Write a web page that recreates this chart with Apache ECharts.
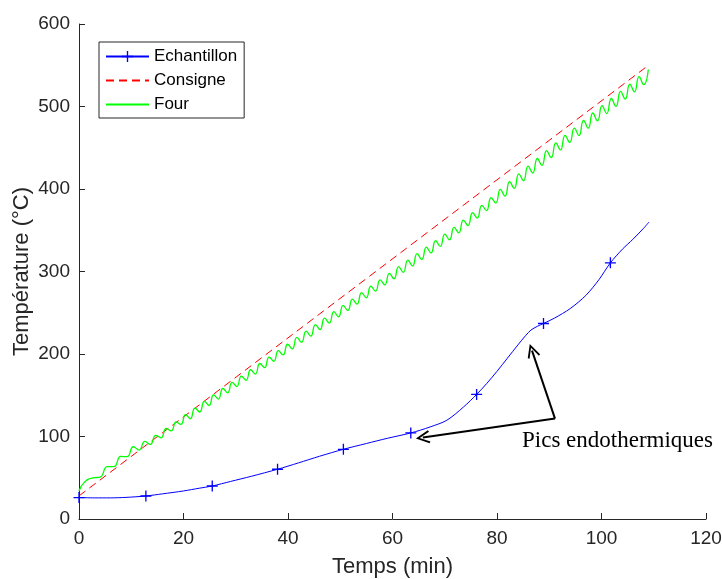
<!DOCTYPE html>
<html><head><meta charset="utf-8">
<script src="https://cdn.jsdelivr.net/npm/echarts@6/dist/echarts.min.js"></script>
<style>html,body{margin:0;padding:0;background:#fff}#c{width:722px;height:579px}</style>
</head><body><div id="c"></div>
<script>
// ---- data ----
const seriesNames = ['Echantillon', 'Consigne', 'Four'];
const xTitle = 'Temps (min)';
const yTitle = 'Température (°C)';
const annotText = 'Pics endothermiques';

const consigneT = [0, 109.1];
const consigneV = [28, 550.5];

const blueT = [0, 3, 6, 9, 12.8, 16, 20, 23, 25.5, 29, 33, 38.0, 42, 46, 50.6, 55, 59, 63.5, 67.2, 70.4, 73.6, 76.1, 78, 80, 82, 84, 85.5, 86.5, 87.7, 88.9, 91, 94, 97, 99.5, 101.7, 104, 106, 108, 109.1];
const blueV = [26, 25.6, 25.6, 26.2, 27.9, 30.5, 34, 37.3, 40, 45.5, 51.8, 60.3, 68, 76, 84.5, 91.5, 97.8, 104.3, 111.6, 119.7, 135.8, 151, 164, 179, 195, 211, 222.5, 229, 233.5, 237, 243.5, 255, 271, 290, 310.5, 327, 339, 352, 360];
const blueMarkerT = [0, 12.8, 25.5, 38.0, 50.6, 63.5, 76.1, 88.9, 101.7];

const greenT = [0, 1.1, 2.7, 4.05, 5.4, 6.7, 8.0, 9.2, 10.4, 11.5, 12.6, 13.65, 14.7, 15.7, 16.7, 17.65, 18.6, 19.5, 20.4, 21.3, 22.2, 23.1, 24.0, 24.89, 25.77, 26.66, 27.54, 28.43, 29.31, 30.20, 31.08, 31.97, 32.85, 33.74, 34.62, 35.51, 36.39, 37.28, 38.16, 39.05, 39.93, 40.82, 41.70, 42.59, 43.47, 44.36, 45.24, 46.13, 47.01, 47.90, 48.78, 49.67, 50.55, 51.44, 52.32, 53.21, 54.09, 54.98, 55.86, 56.75, 57.63, 58.52, 59.40, 60.29, 61.17, 62.06, 62.94, 63.83, 64.71, 65.60, 66.48, 67.37, 68.25, 69.14, 70.02, 70.91, 71.79, 72.68, 73.56, 74.45, 75.33, 76.22, 77.10, 77.99, 78.87, 79.76, 80.64, 81.53, 82.41, 83.30, 84.18, 85.07, 85.95, 86.84, 87.72, 88.61, 89.49, 90.38, 91.26, 92.15, 93.03, 93.92, 94.80, 95.69, 96.57, 97.46, 98.34, 99.23, 100.11, 101.00, 101.88, 102.77, 103.65, 104.54, 105.42, 106.31, 107.19, 108.08, 108.96];
const greenV = [34, 45, 49.9, 50.7, 63.4, 63.6, 75.8, 75.6, 87.6, 83.6, 94.1, 90.4, 101.4, 98.4, 109.7, 106.7, 117.8, 114.6, 126.6, 121.5, 134.5, 129.7, 142.6, 137.6, 150.5, 145.4, 158.2, 153.0, 165.7, 160.6, 173.3, 168.2, 180.9, 175.7, 188.5, 183.4, 196.3, 191.2, 204.0, 198.9, 211.8, 206.2, 220.1, 214.0, 227.8, 221.7, 235.6, 229.6, 243.5, 237.5, 251.3, 245.1, 258.9, 252.7, 266.5, 260.4, 274.3, 268.2, 282.1, 276.1, 289.9, 283.9, 297.8, 291.2, 306.0, 299.0, 313.8, 306.7, 321.6, 314.5, 329.5, 322.5, 337.4, 330.4, 345.4, 338.4, 353.4, 346.8, 362.2, 355.7, 371.2, 364.7, 380.2, 373.8, 389.4, 383.0, 399.6, 391.3, 408.9, 400.7, 418.3, 410.0, 427.7, 419.4, 437.0, 428.7, 446.4, 438.1, 455.8, 447.4, 464.9, 456.4, 473.8, 464.8, 483.2, 473.7, 492.1, 482.6, 501.0, 491.4, 509.7, 500.1, 518.4, 508.9, 527.2, 517.7, 536.1, 526.5, 544.9];

const arrowFrom = [91.1, 121.7];
const arrowTargets = [[65.8, 98.7], [86.7, 204.1]];

// ---- build ----
const zip = (a, b) => a.slice(0, Math.min(a.length, b.length)).map((v, i) => [v, b[i]]);
const PLUS = 'path://M0,4.4H10V5.6H0Z M4.4,0H5.6V10H4.4Z';
const CHEVRON = 'path://M5,0 L10,8.6 L8.8,9.3 L5,2.6 L1.2,9.3 L0,8.6 Z';
const blueData = zip(blueT, blueV).map(p => ({
  value: p,
  symbol: blueMarkerT.indexOf(p[0]) >= 0 ? PLUS : 'none'
}));

const axisColor = '#262626';
const font = 'Liberation Sans';

const chart = echarts.init(document.getElementById('c'), null, {renderer: 'canvas'});
chart.setOption({
  animation: false,
  backgroundColor: '#fff',
  grid: {left: 79, right: 16, top: 24, bottom: 60, containLabel: false, outerBoundsMode: 'none'},
  xAxis: {
    type: 'value', min: 0, max: 120, interval: 20,
    name: xTitle, nameLocation: 'middle', nameGap: 37, nameMoveOverlap: false,
    nameTextStyle: {fontFamily: font, fontSize: 22, color: axisColor},
    axisLine: {show: true, onZero: false, lineStyle: {color: axisColor, width: 1}},
    axisTick: {show: true, inside: true, length: 6, lineStyle: {color: axisColor}},
    axisLabel: {fontFamily: font, fontSize: 19, color: axisColor, margin: 10},
    splitLine: {show: false}
  },
  yAxis: {
    type: 'value', min: 0, max: 600, interval: 100,
    name: yTitle, nameLocation: 'middle', nameGap: 46, nameRotate: 90, nameMoveOverlap: false,
    nameTextStyle: {fontFamily: font, fontSize: 22, color: axisColor},
    axisLine: {show: true, onZero: false, lineStyle: {color: axisColor, width: 1}},
    axisTick: {show: true, inside: true, length: 6, lineStyle: {color: axisColor}},
    axisLabel: {fontFamily: font, fontSize: 19, color: axisColor, margin: 9},
    splitLine: {show: false}
  },
  legend: {
    orient: 'vertical', left: 99, top: 42,
    data: [
      {name: seriesNames[0]},
      {name: seriesNames[1], itemStyle: {opacity: 0}},
      {name: seriesNames[2], itemStyle: {opacity: 0}}
    ],
    itemWidth: 43, itemHeight: 14, itemGap: 7,
    padding: [6, 7, 5, 6],
    borderColor: axisColor, borderWidth: 1, backgroundColor: '#fff',
    textStyle: {fontFamily: font, fontSize: 17, color: '#000'},
    selectedMode: false
  },
  series: [
    {
      name: seriesNames[0], type: 'line', data: blueData, smooth: 0.3,
      symbol: PLUS, symbolSize: 11, showSymbol: true,
      lineStyle: {color: '#0000ff', width: 1},
      itemStyle: {color: '#0000ff'},
      z: 3,
      markLine: {
        silent: true, symbol: ['none', CHEVRON], symbolSize: [13, 14],
        label: {show: false},
        lineStyle: {color: '#000', width: 2, type: 'solid'},
        emphasis: {disabled: true},
        data: arrowTargets.map(tg => [{coord: arrowFrom}, {coord: tg}])
      }
    },
    {
      name: seriesNames[1], type: 'line', data: zip(consigneT, consigneV),
      symbol: 'none', lineStyle: {color: '#ff0000', width: 1, type: [8, 5]},
      itemStyle: {color: '#ff0000'}, z: 2
    },
    {
      name: seriesNames[2], type: 'line', data: zip(greenT, greenV),
      symbol: 'none', smooth: 0.5,
      lineStyle: {color: '#00ff00', width: 1.3},
      itemStyle: {color: '#00ff00'}, z: 2
    }
  ],
  graphic: [{
    type: 'text', left: 522, top: 429,
    style: {text: annotText, font: '23px "Liberation Serif"', fill: '#000'}
  }]
});
</script></body></html>
